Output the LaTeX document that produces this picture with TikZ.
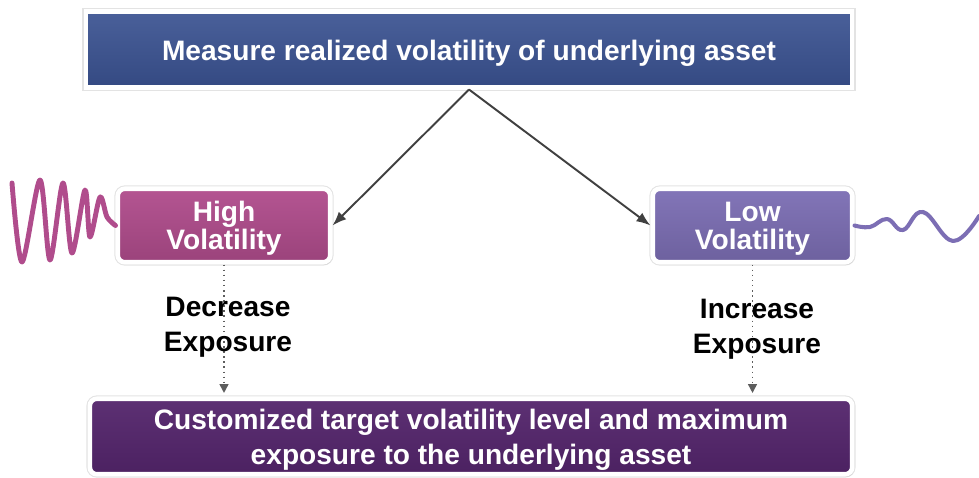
\documentclass[tikz,border=0pt]{standalone}
\usepackage{fontspec}
\setmainfont{Liberation Sans}
\usetikzlibrary{
  arrows.meta,
  shadows
}
\definecolor{measureblue}{RGB}{58,82,145}
\definecolor{highpink}{RGB}{176,76,140}
\definecolor{lowpurple}{RGB}{124,110,180}
\definecolor{targetplum}{RGB}{84,37,108}
\definecolor{linkgray}{RGB}{64,64,64}

\begin{document}
\begin{tikzpicture}[
  x=0.02cm, y=-0.02cm,
  every node/.style = {align=center,
    font=\bfseries\fontsize{16}{20}\selectfont},
  box/.style = {shape=rectangle, draw=white, line width=2.6pt,
    text=white, inner sep=0pt,
    preaction={draw=black!11, line width=3.8pt},
    drop shadow={opacity=0.2, shadow xshift=0.8pt, shadow yshift=-1.4pt}},
  link/.style = {draw=linkgray, line width=1.1pt,
    -{Latex[length=8pt,width=6pt]}},
  dotlink/.style = {draw=linkgray!85, line width=0.9pt, dotted,
    shorten >=2pt, -{Triangle[length=5pt,width=5pt]}},
  wave/.style = {line width=2.8pt, line cap=round, line join=round}]
  \useasboundingbox (0,0) rectangle (979,477);

  % boxes
  \node[box, minimum width=15.33cm, minimum height=1.51cm,
    text height=12pt, text depth=0pt,
    top color=measureblue!92!white, bottom color=measureblue!90!black]
    (measure) at (469,49.5) {Measure realized volatility of underlying asset};
  \node[box, rounded corners=4pt, minimum width=4.25cm, minimum height=1.47cm,
    text depth=0pt,
    top color=highpink!95!white, bottom color=highpink!88!black]
    (high) at (224,225.5) {High\\[-4pt]Volatility};
  \node[box, rounded corners=4pt, minimum width=3.99cm, minimum height=1.47cm,
    text depth=0pt,
    top color=lowpurple!95!white, bottom color=lowpurple!88!black]
    (low) at (752.5,225.5) {Low\\[-4pt]Volatility};
  \node[box, rounded corners=4pt, minimum width=15.25cm, minimum height=1.51cm,
    text depth=0pt,
    top color=targetplum!95!white, bottom color=targetplum!90!black]
    (target) at (471,436.5)
    {Customized target volatility level and maximum\\exposure to the underlying asset};

  % arrows
  \draw[link] (measure.south) -- (high.east);
  \draw[link] (measure.south) -- (low.west);
  \draw[dotlink] (high.south) -- (high.south |- target.north);
  \draw[dotlink] (low.south) -- (low.south |- target.north);

  % labels
  \node (decrease) at (228,327) {Decrease\\Exposure};
  \node (increase) at (757,329) {Increase\\Exposure};

  % volatility waves
  \draw[wave, highpink] plot[smooth, tension=0.5] coordinates {
    (12,183) (22,262) (40,180) (50,260) (63,183) (72,253)
    (85,190) (90,237) (100,197) (107,217) (high.west)};
  \draw[wave, lowpurple, line width=2.3pt] plot[smooth, tension=0.7] coordinates {
    (low.east) (870,227) (887,219) (903,230) (923,212) (953,241) (979,216)};
\end{tikzpicture}
\end{document}
